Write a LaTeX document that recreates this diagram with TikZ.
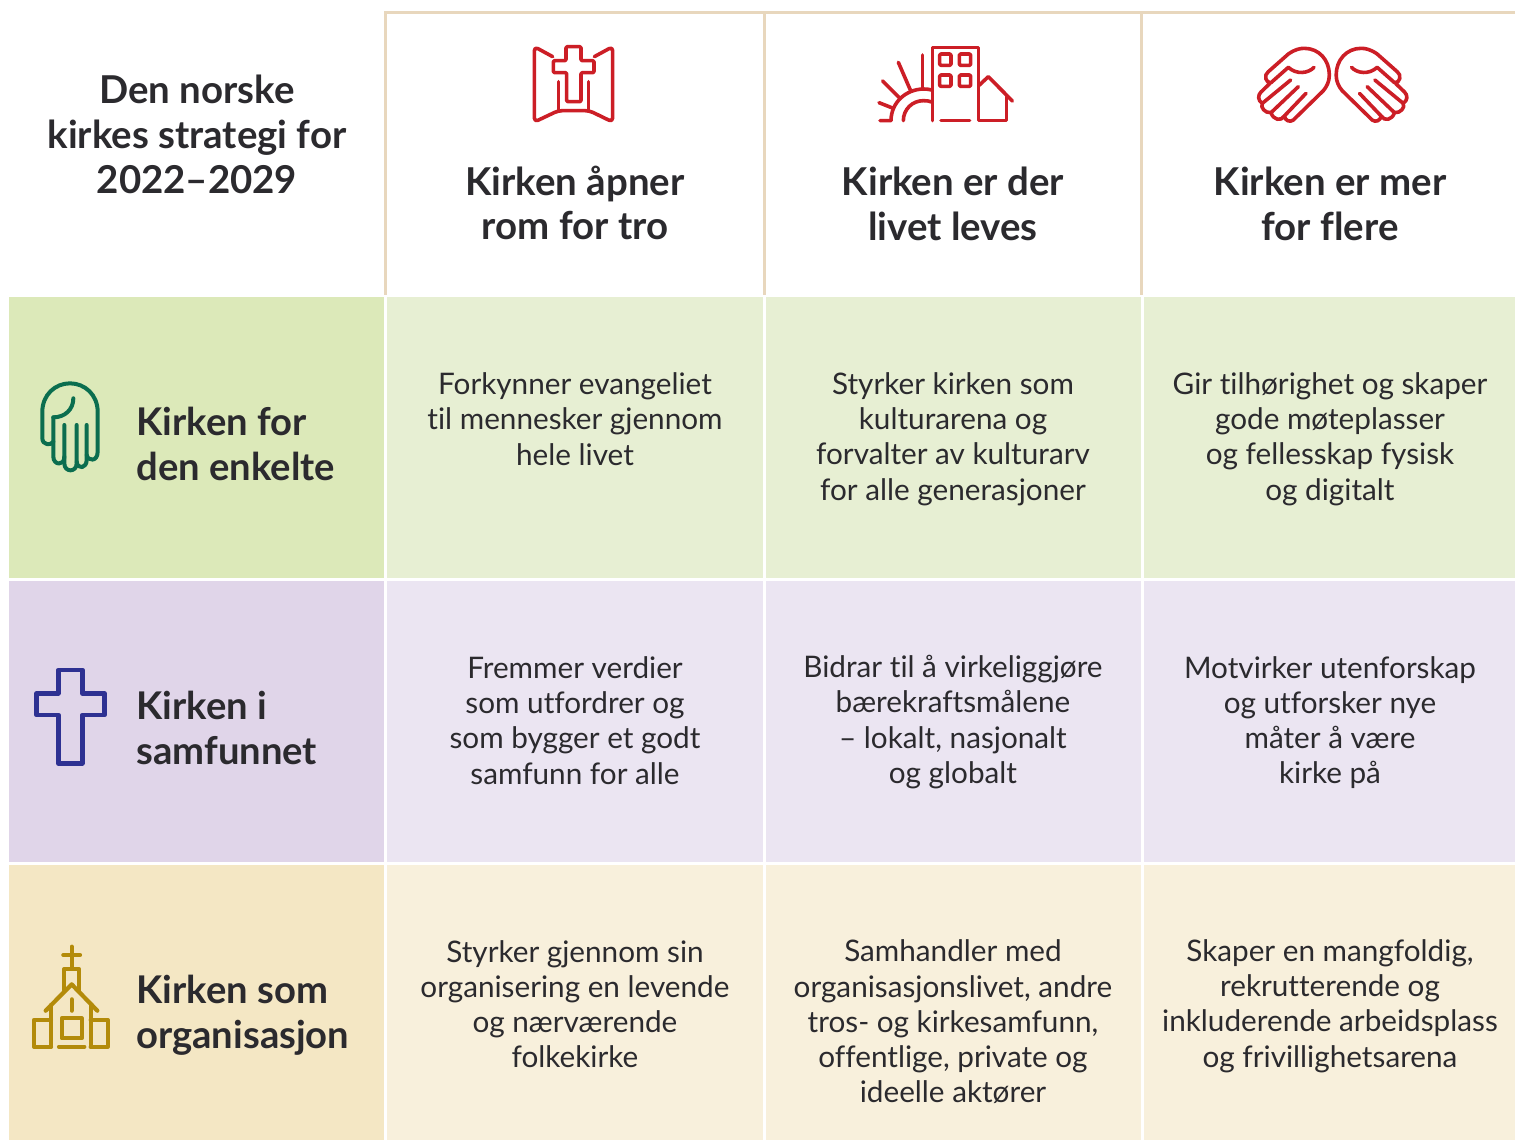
\documentclass[tikz,border=0pt]{standalone}
\usepackage{fontspec}
\setmainfont{Lato}[Ligatures=NoCommon]
\definecolor{gd}{HTML}{DCE9B9}
\definecolor{gl}{HTML}{E7EFD3}
\definecolor{pd}{HTML}{E0D5E9}
\definecolor{pl}{HTML}{EBE5F2}
\definecolor{yd}{HTML}{F4E7C4}
\definecolor{yl}{HTML}{F8F0DC}
\definecolor{beige}{HTML}{E8D7BD}
\definecolor{ired}{HTML}{CC1E26}
\definecolor{igreen}{HTML}{0B6E4F}
\definecolor{iblue}{HTML}{2E3192}
\definecolor{igold}{HTML}{B38B0A}
\definecolor{ink}{HTML}{2B2A2E}
\tikzset{
 x=0.5pt,y=-0.5pt,
 body/.style={align=center,inner sep=0pt,text=ink,font=\fontsize{14.85pt}{17.6pt}\selectfont},
 head/.style={align=center,inner sep=0pt,text=ink,font=\fontsize{19.2pt}{22.4pt}\selectfont\bfseries},
 rowhead/.style={align=left,anchor=west,inner sep=0pt,text=ink,font=\fontsize{19.1pt}{22.6pt}\selectfont\bfseries},
 icon/.style={x=0.16667pt,y=-0.16667pt,line width=1.8pt,line cap=round,line join=round,draw=ired},
}
\begin{document}
\begin{tikzpicture}
\useasboundingbox (0,0) rectangle (1515,1140);
\fill[white] (0,0) rectangle (1515,1140);
% cells
\fill[gd] (9,297) rectangle (384,578);
\fill[gl] (387,297) rectangle (763,578);
\fill[gl] (766,297) rectangle (1141,578);
\fill[gl] (1144,297) rectangle (1515,578);
\fill[pd] (9,581) rectangle (384,862);
\fill[pl] (387,581) rectangle (763,862);
\fill[pl] (766,581) rectangle (1141,862);
\fill[pl] (1144,581) rectangle (1515,862);
\fill[yd] (9,865) rectangle (384,1140);
\fill[yl] (387,865) rectangle (763,1140);
\fill[yl] (766,865) rectangle (1141,1140);
\fill[yl] (1144,865) rectangle (1515,1140);
% header rules
\fill[beige] (384,11) rectangle (1515,14);
\fill[beige] (384,11) rectangle (387,295);
\fill[beige] (763,11) rectangle (766,295);
\fill[beige] (1140,11) rectangle (1143,295);
% texts
\node[head] (title) at (197,134.5) {Den norske\\kirkes strategi for\\2022–2029};
\node[head] (c1) at (575,203) {Kirken åpner\\rom for tro};
\node[head] (c2) at (953,204) {Kirken er der\\livet leves};
\node[head] (c3) at (1330,204) {Kirken er mer\\for flere};
\node[rowhead] (r1) at (136,444) {Kirken for\\den enkelte};
\node[rowhead] (r2) at (136,728) {Kirken i\\samfunnet};
\node[rowhead] (r3) at (136,1015) {Kirken som\\organisasjon};
\node[body] (a1) at (575,419) {Forkynner evangeliet\\til mennesker gjennom\\hele livet};
\node[body] (a2) at (953,439) {Styrker kirken som\\kulturarena og\\forvalter av kulturarv\\for alle generasjoner};
\node[body] (a3) at (1330,439) {Gir tilhørighet og skaper\\gode møteplasser\\og fellesskap fysisk\\og digitalt};
\node[body] (b1) at (575,720.5) {Fremmer verdier\\som utfordrer og\\som bygger et godt\\samfunn for alle};
\node[body] (b2) at (953,722) {Bidrar til å virkeliggjøre\\bærekraftsmålene\\– lokalt, nasjonalt\\og globalt};
\node[body] (b3) at (1330,722.5) {Motvirker utenforskap\\og utforsker nye\\måter å være\\kirke på};
\node[body] (d1) at (575,1004) {Styrker gjennom sin\\organisering en levende\\og nærværende\\folkekirke};
\node[body] (d2) at (953,1022) {Samhandler med\\organisasjonslivet, andre\\tros- og kirkesamfunn,\\offentlige, private og\\ideelle aktører};
\node[body] (d3) at (1330,1006) {Skaper en mangfoldig,\\rekrutterende og\\inkluderende arbeidsplass\\og frivillighetsarena};
% book icon
\begin{scope}[shift={(510,30)},icon]
\draw[rounded corners=2pt] (128,80) -- (73,50) -- (73,276) -- (145,242) -- (238,242) -- (308,276) -- (308,50) -- (253,80);
\draw[rounded corners=0.6pt] (168,50) -- (213,50) -- (213,92) -- (252,92) -- (252,128) -- (213,128) -- (213,215) -- (170,215) -- (170,128) -- (130,128) -- (130,92) -- (168,92) -- cycle;
\draw (146,155) -- (146,242);
\draw (236,155) -- (236,242);
\end{scope}
% town icon
\begin{scope}[shift={(865,30)},icon]
\draw (202,272) -- (202,52) -- (340,52) -- (340,272) -- (425,272) -- (425,200);
\draw (340,168) -- (370,140) -- (442,213);
\foreach \a/\b in {224/72,283/72,224/135,283/135}
  \draw[rounded corners=0.6pt] (\a,\b) rectangle ++(34,34);
\draw (228,272) -- (314,272);
\draw (45,272) -- (78,272) .. controls (78,218) and (122,178) .. (175,177) .. controls (185,177) and (193,178) .. (200,180);
\draw (115,272) .. controls (115,238) and (142,212) .. (175,212) .. controls (185,212) and (193,213) .. (200,216);
\draw (173,75) -- (173,175);
\draw (100,97) -- (136,180);
\draw (53,153) -- (103,203);
\draw (42,218) -- (85,235);
\end{scope}
% hands icon
\foreach \sx/\ox in {1/1245,-1/1420.5}{
\begin{scope}[shift={(\ox,30)},icon,xscale=\sx]
\draw (207,112) .. controls (190,130) and (155,135) .. (130,112) -- (78,158)
 .. controls (62,160) and (55,135) .. (70,125) -- (130,72)
 .. controls (150,58) and (165,55) .. (178,55)
 .. controls (222,55) and (253,90) .. (253,135)
 .. controls (253,155) and (245,170) .. (235,182) -- (145,270)
 .. controls (135,278) and (120,272) .. (118,258)
 .. controls (108,275) and (85,270) .. (78,248)
 .. controls (60,250) and (45,232) .. (52,220)
 .. controls (38,212) and (38,195) .. (48,186) -- (75,160);
\draw (137,150) -- (52,220);
\draw (160,170) -- (78,248);
\draw (183,190) -- (118,258);
\end{scope}}
% hand icon
\begin{scope}[shift={(25,370)},icon,draw=igreen,line width=2pt]
\draw (85,142) -- (85,260) .. controls (85,285) and (118,290) .. (118,260);
\draw (118,165) -- (118,280) .. controls (118,308) and (155,308) .. (155,280) -- (155,165);
\draw (155,275) .. controls (158,300) and (185,295) .. (185,270) -- (185,165);
\draw (185,255) .. controls (190,275) and (218,275) .. (218,245) -- (218,125)
 .. controls (218,75) and (180,40) .. (135,40)
 .. controls (90,40) and (52,75) .. (52,125) -- (52,205)
 .. controls (52,225) and (78,228) .. (85,215);
\draw (85,142) .. controls (120,142) and (145,118) .. (145,85);
\end{scope}
% cross icon
\begin{scope}[shift={(20,660)},icon,draw=iblue,line width=2.3pt]
\draw (115,30) -- (187,30) -- (187,100) -- (253,100) -- (253,165) -- (187,165) -- (187,310) -- (115,310) -- (115,165) -- (50,165) -- (50,100) -- (115,100) -- cycle;
\end{scope}
% church icon
\begin{scope}[shift={(20,940)},icon,draw=igold,line width=2.1pt]
\draw (155,20) -- (155,85);
\draw (130,45) -- (180,45);
\draw (132,150) -- (132,88) -- (178,88) -- (178,150);
\draw (77,212) -- (155,133) -- (232,212);
\draw (93,195) -- (93,320);
\draw (212,195) -- (212,320);
\draw (93,240) -- (42,240) -- (42,320) -- (93,320);
\draw (212,240) -- (263,240) -- (263,320) -- (212,320);
\draw (125,235) rectangle (185,295);
\draw (155,178) -- (155,212);
\draw (117,320) -- (193,320);
\end{scope}
\end{tikzpicture}
\end{document}
